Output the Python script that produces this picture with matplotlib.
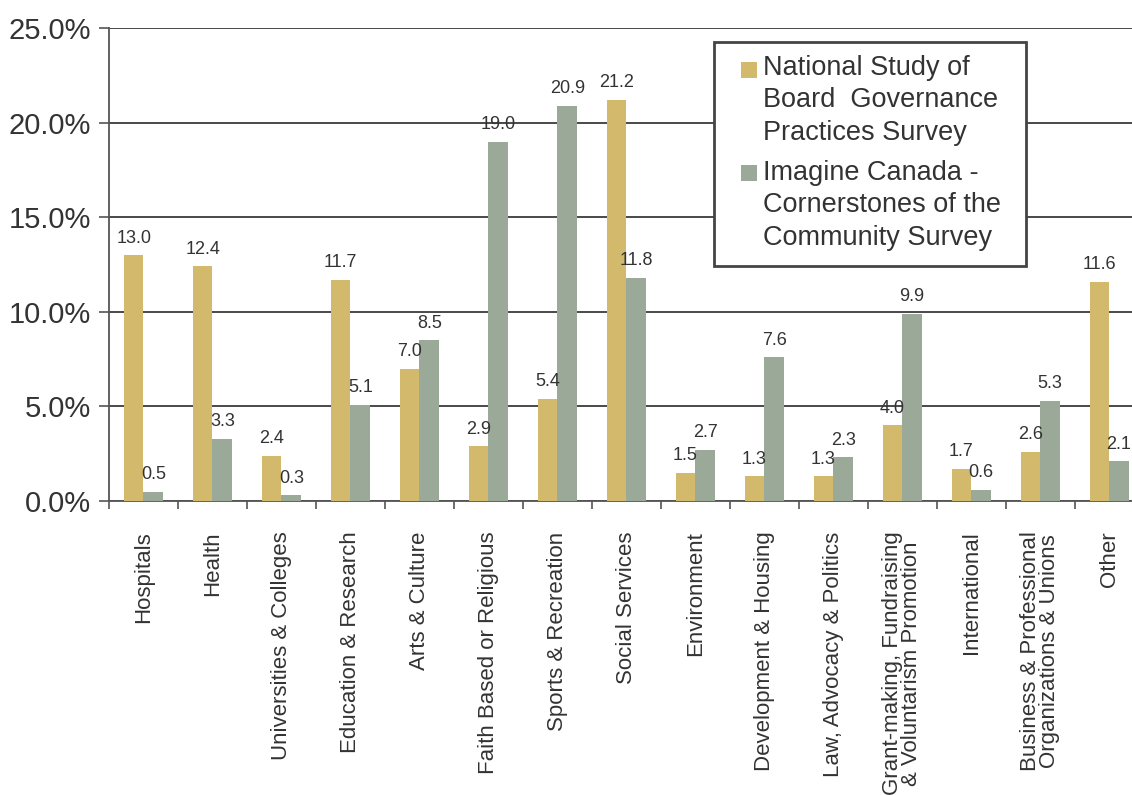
import numpy as np
import matplotlib.pyplot as plt
from matplotlib.patches import Rectangle

plt.rcParams['font.family'] = ['Liberation Sans', 'DejaVu Sans']

# categories and the two survey series (percent)
categories = ["Hospitals", "Health", "Universities & Colleges", "Education & Research",
              "Arts & Culture", "Faith Based or Religious", "Sports & Recreation",
              "Social Services", "Environment", "Development & Housing",
              "Law, Advocacy & Politics",
              "Grant-making, Fundraising\n& Voluntarism Promotion",
              "International",
              "Business & Professional\nOrganizations & Unions", "Other"]
national = [13.0, 12.4, 2.4, 11.7, 7.0, 2.9, 5.4, 21.2, 1.5, 1.3, 1.3, 4.0, 1.7, 2.6, 11.6]
imagine = [0.5, 3.3, 0.3, 5.1, 8.5, 19.0, 20.9, 11.8, 2.7, 7.6, 2.3, 9.9, 0.6, 5.3, 2.1]
series_names = ["National Study of\nBoard  Governance\nPractices Survey",
                "Imagine Canada -\nCornerstones of the\nCommunity Survey"]
yticks = [0, 5, 10, 15, 20, 25]

gold = '#d3b96c'
green = '#9ba999'
dark = '#333333'

fig = plt.figure(figsize=(11.32, 7.95), dpi=100)
ax = fig.add_axes([0.0963, 0.3698, 0.914, 0.595])

x = np.arange(len(categories))
w = 0.285
b1 = ax.bar(x - w/2, national, w, color=gold, zorder=3)
b2 = ax.bar(x + w/2, imagine, w, color=green, zorder=3)

for bars, vals in [(b1, national), (b2, imagine)]:
    for rect, v in zip(bars, vals):
        ax.text(rect.get_x() + rect.get_width()/2, v + 0.45, f"{v:.1f}", ha='center',
                va='bottom', fontsize=13, color=dark, clip_on=False)

ax.set_xlim(-0.5, len(categories) - 0.5)
ax.set_ylim(0, 25)
ax.set_yticks(yticks)
ax.set_yticklabels([f"{t:.1f}%" for t in yticks], fontsize=21, color=dark)
ax.yaxis.grid(True, color='#3a3a3a', linewidth=1.3, zorder=0)

# boundary ticks as major, labels on minor ticks at centers
ax.set_xticks(np.arange(len(categories)) - 0.5)
ax.set_xticklabels([])
ax.set_xticks(x, minor=True)
ax.set_xticklabels(categories, minor=True, rotation=90, fontsize=16, color=dark,
                   multialignment='center', linespacing=0.85)
ax.tick_params(axis='x', which='major', length=6, width=1.2, color='#555555')
ax.tick_params(axis='x', which='minor', length=0, pad=22)
ax.tick_params(axis='y', length=7, width=1.2, color='#555555', pad=6)

for s in ['top', 'right']:
    ax.spines[s].set_visible(False)
for s in ['left', 'bottom']:
    ax.spines[s].set_color('#555555')
    ax.spines[s].set_linewidth(1.3)

# legend drawn by hand so the swatches sit on the first line of each entry
W, H = 1132.0, 795.0
fig.patches.append(Rectangle((714/W, 1 - 266/H), 312/W, 224/H, transform=fig.transFigure,
                             facecolor='white', edgecolor='#444444', linewidth=2, zorder=5))
for name, col, sq_top, txt_top in [(series_names[0], gold, 62, 55),
                                   (series_names[1], green, 165, 160)]:
    fig.patches.append(Rectangle((741/W, 1 - (sq_top + 16)/H), 16/W, 16/H,
                                 transform=fig.transFigure, facecolor=col,
                                 edgecolor='none', zorder=6))
    fig.text(763/W, 1 - txt_top/H, name, fontsize=19.5, color=dark, va='top',
             ha='left', linespacing=1.32, zorder=6)

fig.savefig('out.png', dpi=100)
